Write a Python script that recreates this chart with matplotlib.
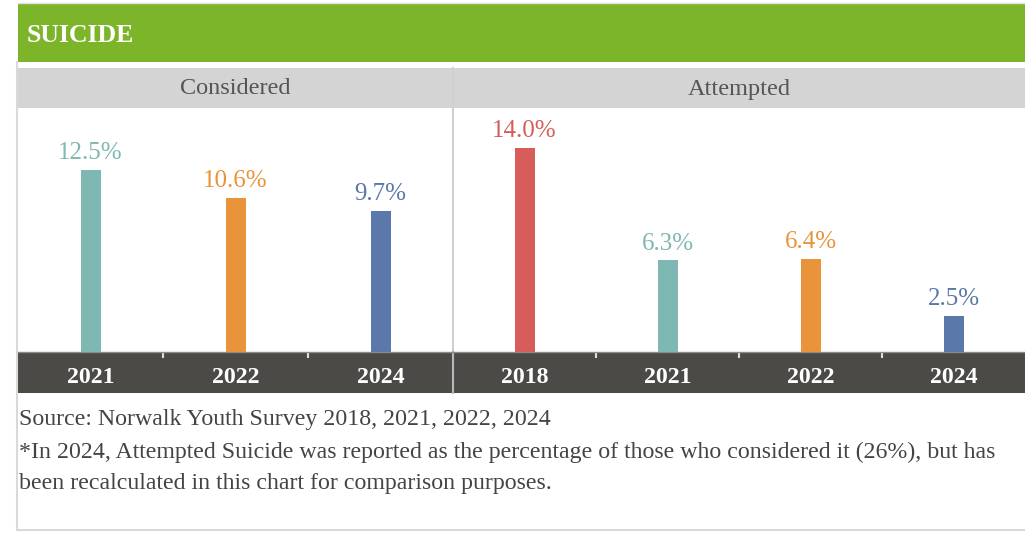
import matplotlib
matplotlib.use("Agg")
import matplotlib.pyplot as plt
from matplotlib.patches import Rectangle

# ---- data ----
title = "SUICIDE"
panel_titles = ["Considered", "Attempted"]
considered_years = ["2021", "2022", "2024"]
considered_values = [12.5, 10.6, 9.7]
attempted_years = ["2018", "2021", "2022", "2024"]
attempted_values = [14.0, 6.3, 6.4, 2.5]
footnote_lines = [
    "Source: Norwalk Youth Survey 2018, 2021, 2022, 2024",
    "*In 2024, Attempted Suicide was reported as the percentage of those who considered it (26%), but has",
    "been recalculated in this chart for comparison purposes.",
]

year_colors = {
    "2018": "#d65d5a",
    "2021": "#7fb8b2",
    "2022": "#e9933a",
    "2024": "#5a78a9",
}

W, H = 1025, 534
SERIF = ["Liberation Serif", "DejaVu Serif"]
plt.rcParams["font.family"] = SERIF

fig = plt.figure(figsize=(W / 100, H / 100), dpi=100)
fig.patch.set_facecolor("white")

# background canvas in pixel coordinates
bg = fig.add_axes([0, 0, 1, 1])
bg.set_xlim(0, W)
bg.set_ylim(H, 0)
bg.axis("off")


def rect(x0, y0, x1, y1, color, z=1):
    bg.add_patch(Rectangle((x0, y0), x1 - x0, y1 - y0, facecolor=color,
                           edgecolor="none", zorder=z))


LEFT, RIGHT, MID = 18, 1025, 453
PLOT_TOP, PLOT_BOT = 108, 352
BAND_BOT = 393

rect(LEFT, 4, RIGHT, 62, "#7db52a")            # title bar
rect(LEFT, 68, RIGHT, PLOT_TOP, "#d4d4d4")     # panel header band
rect(LEFT, PLOT_BOT, RIGHT, BAND_BOT, "#4b4a46")  # category band

# frame lines
bg.plot([17, 17], [62, 530], color="#d9d9d9", lw=1.5, zorder=2)
bg.plot([17, RIGHT], [530, 530], color="#d9d9d9", lw=1.5, zorder=2)
bg.plot([LEFT, RIGHT], [3, 3], color="#e0e0e0", lw=1, zorder=2)
bg.plot([MID, MID], [68, PLOT_BOT], color="#d0d0d0", lw=1.5, zorder=3)
bg.plot([MID, MID], [PLOT_BOT, BAND_BOT], color="#b8b8b8", lw=1.5, zorder=3)

bg.text(27, 36, title, color="white", fontsize=18.5, fontweight="bold",
        va="center", ha="left", zorder=4)
bg.text((LEFT + MID) / 2, 89, panel_titles[0], color="#555555",
        fontsize=17.5, ha="center", va="center", zorder=4)
bg.text((MID + RIGHT) / 2, 89, panel_titles[1], color="#555555",
        fontsize=17.5, ha="center", va="center", zorder=4)

for i, line in enumerate(footnote_lines):
    bg.text(19, 420 + i * 32, line, color="#444444", fontsize=17.2,
            ha="left", va="center", zorder=4)

YMAX = 16.75
BAR_PX = 20


def panel(x0, x1, years, values):
    ax = fig.add_axes([x0 / W, 1 - PLOT_BOT / H, (x1 - x0) / W,
                       (PLOT_BOT - PLOT_TOP) / H])
    ax.set_facecolor("none")
    n = len(years)
    slot_px = (x1 - x0) / n
    colors = [year_colors[y] for y in years]
    ax.bar(range(n), values, width=BAR_PX / slot_px, color=colors, zorder=3)
    for i, v in enumerate(values):
        ax.annotate(f"{v:.1f}%", (i, v), xytext=(0, 12),
                    textcoords="offset points", ha="center", va="center",
                    color=colors[i], fontsize=18)
    ax.set_xlim(-0.5, n - 0.5)
    ax.set_ylim(0, YMAX)
    ax.set_yticks([])
    ax.set_xticks(range(n))
    ax.set_xticklabels(years, color="white", fontsize=17.2,
                       fontweight="bold")
    ax.tick_params(axis="x", which="major", length=0, pad=10.5)
    ax.set_xticks([i + 0.5 for i in range(n - 1)], minor=True)
    ax.tick_params(axis="x", which="minor", length=4.5, width=1.5,
                   color="#e0e0e0", direction="out")
    for s in ["top", "left", "right"]:
        ax.spines[s].set_visible(False)
    ax.spines["bottom"].set_color("#8a8a86")
    ax.spines["bottom"].set_linewidth(1)
    return ax


panel(LEFT, MID, considered_years, considered_values)
panel(MID, RIGHT, attempted_years, attempted_values)

fig.savefig("out.png", dpi=100, facecolor="white")
